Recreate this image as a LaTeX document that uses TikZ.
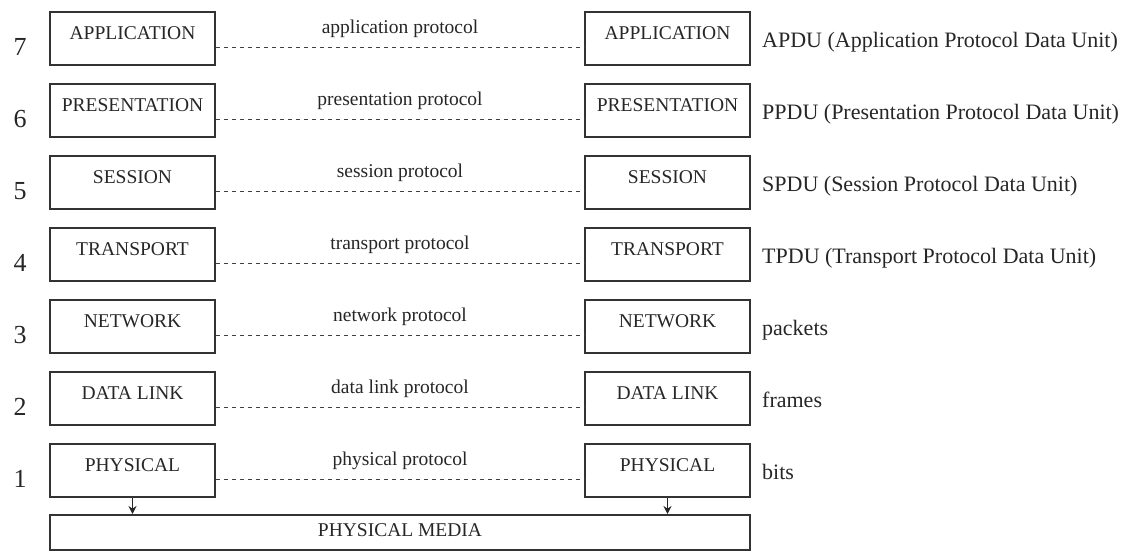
\documentclass[tikz,border=0pt]{standalone}
\usepackage{fontspec}
\setmainfont{Liberation Serif}
\usetikzlibrary{arrows.meta,calc}
\begin{document}
\begin{tikzpicture}[x=1pt,y=-1pt,
  layer/.style={draw=black!80, line width=1.9pt, minimum width=165pt,
    inner xsep=0pt, inner ysep=0pt, text height=28pt, text depth=25pt,
    anchor=north, font=\fontsize{19.5}{22}\selectfont, text=black!85},
  media/.style={draw=black!80, line width=1.9pt, minimum width=700pt,
    inner xsep=0pt, inner ysep=0pt, text height=22pt, text depth=13pt,
    anchor=north, font=\fontsize{19.5}{22}\selectfont, text=black!85},
  protoline/.style={draw=black!75, line width=1pt, dash pattern=on 4pt off 4pt},
  protolbl/.style={anchor=base, inner sep=0pt, font=\fontsize{19.5}{22}\selectfont, text=black!85},
  pdulbl/.style={anchor=base west, inner sep=0pt, font=\fontsize{22}{26}\selectfont, text=black!85},
  numlbl/.style={anchor=base, inner sep=0pt, font=\fontsize{26}{28}\selectfont, text=black!85},
  downarrow/.style={draw=black!85, line width=1.8pt, -{Stealth[length=8pt,width=8pt]}}
]
\useasboundingbox (0,0) rectangle (1133,550);
\foreach \n/\name/\proto/\pdu in {
  7/APPLICATION/application protocol/APDU (Application Protocol Data Unit),
  6/PRESENTATION/presentation protocol/PPDU (Presentation Protocol Data Unit),
  5/SESSION/session protocol/SPDU (Session Protocol Data Unit),
  4/TRANSPORT/transport protocol/TPDU (Transport Protocol Data Unit),
  3/NETWORK/network protocol/packets,
  2/DATA LINK/data link protocol/frames,
  1/PHYSICAL/physical protocol/bits}{
  \pgfmathsetmacro\t{11+72*(7-\n)}
  \node[layer] (L\n) at (132.5,\t) {\name};
  \node[layer] (R\n) at (667.5,\t) {\name};
  \node[numlbl] (N\n) at (20,\t+44) {\n};
  \node[protolbl] (P\n) at (400,\t+22) {\proto};
  \node[pdulbl] (D\n) at (762,\t+36) {\pdu};
  \coordinate (a\n) at ($(L\n.north east)+(0,36)$);
  \draw[protoline] (a\n) -- (a\n -| R\n.west);
}
\node[media] (M) at (400,514) {PHYSICAL MEDIA};
\draw[downarrow] (L1.south) -- (L1.south |- M.north);
\draw[downarrow] (R1.south) -- (R1.south |- M.north);
\end{tikzpicture}
\end{document}
